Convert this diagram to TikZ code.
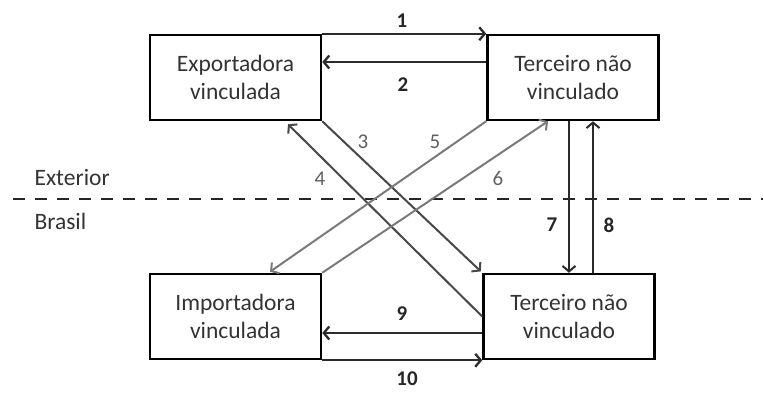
\documentclass[tikz,border=0pt]{standalone}
\usepackage{fontspec}
\setmainfont{Carlito}
\usepackage{tikz}
\usetikzlibrary{arrows.meta}
\definecolor{darkline}{HTML}{2B2B2B}
\definecolor{midline}{HTML}{484848}
\definecolor{lightline}{HTML}{7A7A7A}
\definecolor{numgray}{HTML}{606060}

\begin{document}
\begin{tikzpicture}[x=1pt, y=-1pt,
    firm/.style={draw=black, line width=2.5pt, minimum width=171pt, minimum height=85pt,
                 align=center, font=\fontsize{23.5}{28}\selectfont, text=black!80, inner sep=0pt},
    flow/.style={-{Straight Barb[length=5.5pt, width=13pt]}, line width=2.3pt, draw=darkline},
    cross/.style={-{Straight Barb[length=5.5pt, width=13pt]}, line width=2pt, draw=midline},
    crosslight/.style={-{Straight Barb[length=5.5pt, width=13pt]}, line width=2pt, draw=lightline},
    num/.style={font=\fontsize{21}{24}\selectfont\bfseries, text=black!85},
    numlight/.style={font=\fontsize{21}{24}\selectfont, text=numgray},
    region/.style={anchor=west, font=\fontsize{23.5}{28}\selectfont, text=black!80}]
    \useasboundingbox (0,0) rectangle (763,392);
        % firms
        \node [firm] (expv) at (235.5,77.5) {Exportadora\\vinculada};
        \node [firm] (terc1) at (573,77.5) {Terceiro não\\vinculado};
        \node [firm] (impv) at (235.5,316.5) {Importadora\\vinculada};
        \node [firm] (terc2) at (569,316.5) {Terceiro não\\vinculado};
        % border line
        \draw [black!85, line width=2.6pt, dash pattern=on 12pt off 10pt] (13,199)--(763,199);
        \node [region] (ext) at (31,177) {Exterior};
        \node [region] (bra) at (31,221) {Brasil};
        % flows between the firms
        \draw [flow] (expv.north east) -- (terc1.north west);
        \draw [flow] ([yshift=15.5pt]terc1.west) -- ([yshift=15.5pt]expv.east);
        \draw [cross, shorten >=2pt] (expv.south east) -- (terc2.north west);
        \draw [cross] (terc2.west) -- ([xshift=52.5pt, yshift=-3pt]expv.south);
        \draw [crosslight] (terc1.south west) -- ([xshift=34.5pt, yshift=1pt]impv.north);
        \draw [crosslight] (impv.north east) -- ([xshift=-25pt]terc1.south);
        \draw [flow, line width=2pt] ([xshift=-4pt]terc1.south) -- (terc2.north);
        \draw [flow, line width=2pt] ([xshift=24pt]terc2.north) -- ([xshift=20pt]terc1.south);
        \draw [flow] ([yshift=-16.5pt]terc2.west) -- ([yshift=-16.5pt]impv.east);
        \draw [flow] (impv.south east) -- (terc2.south west);
        % numbers
        \node [num] (n1) at (402,21) {1};
        \node [num] (n2) at (403,85) {2};
        \node [numlight] (n3) at (363,142) {3};
        \node [numlight] (n4) at (320,179) {4};
        \node [numlight] (n5) at (435,142) {5};
        \node [numlight] (n6) at (498,178) {6};
        \node [num] (n7) at (552,225) {7};
        \node [num] (n8) at (609,225) {8};
        \node [num] (n9) at (402,314) {9};
        \node [num] (n10) at (407,379) {10};
\end{tikzpicture}
\end{document}
